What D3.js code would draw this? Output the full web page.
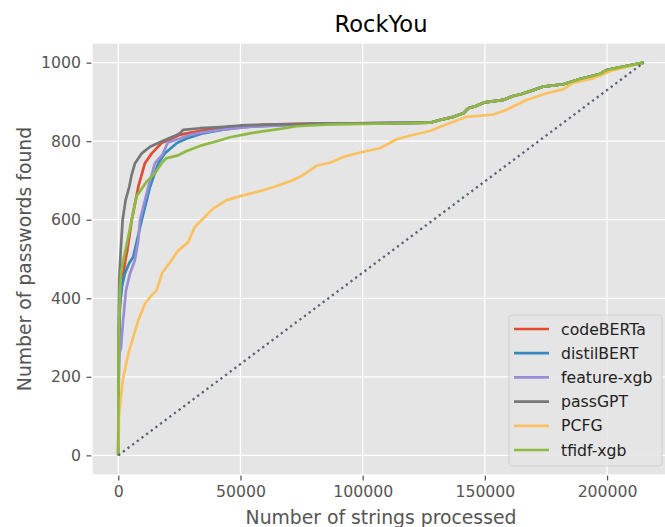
<!DOCTYPE html>
<html>
<head>
<meta charset="utf-8">
<script src="https://cdn.jsdelivr.net/npm/d3@7"></script>
<style>
  html, body { margin: 0; padding: 0; background: #ffffff; }
  svg { display: block; font-family: "DejaVu Sans", sans-serif; }
</style>
</head>
<body>
<svg id="chart" width="665" height="527"></svg>
<script>
// ---------------- data ----------------
const title = "RockYou";
const xLabel = "Number of strings processed";
const yLabel = "Number of passwords found";
const xTicks = [0, 50000, 100000, 150000, 200000];
const yTicks = [0, 200, 400, 600, 800, 1000];
const seriesNames = ["codeBERTa", "distilBERT", "feature-xgb", "passGPT", "PCFG", "tfidf-xgb"];
const seriesColors = ["#E24A33", "#348ABD", "#988ED5", "#777777", "#FBC15E", "#8EBA42"];

// common tail shared by the model curves after the plateau
const tail = [[131600,854],[137100,862],[141200,871],[143200,884],[146600,890],[150000,899],
  [157500,905],[161600,915],[165000,920],[169800,930],[173900,939],[182100,945],[188900,958],
  [197100,971],[199800,981],[205300,988],[215000,1000]];

const codeBERTa = [[0,0],[150,250],[500,360],[1200,420],[2000,460],[3000,500],[3700,522],[5500,599],
  [8200,684],[10900,744],[13700,769],[17700,795],[21800,807],[25000,816],[28000,820],[36200,829],
  [45000,836],[60000,842],[80000,845],[110000,846],[127500,847]].concat(tail);

const distilBERT = [[0,0],[150,220],[600,380],[1500,430],[2700,463],[4500,490],[6100,505],[7700,548],
  [9600,599],[13000,684],[16400,744],[19100,769],[23900,795],[28000,807],[34700,820],[41600,828],
  [50000,836],[70000,842],[90000,845],[110000,846],[127500,847]].concat(tail);

const featureXgb = [[0,0],[200,180],[500,262],[1100,272],[1400,300],[2000,345],[3150,420],[4800,463],
  [6800,497],[8200,548],[8900,600],[12300,684],[15000,744],[18000,765],[20300,797],[25200,807],
  [29300,816],[33400,821],[41600,829],[55000,837],[70000,841],[90000,844],[110000,846],[127500,847]].concat(tail);

const passGPT = [[0,0],[100,300],[400,450],[1000,522],[1800,600],[3000,650],[4500,684],[5500,715],
  [6800,743],[9600,769],[13000,786],[17700,799],[23900,816],[25200,820],[26500,829],[33400,833],
  [41600,836],[49800,840],[60000,842],[85300,845],[110000,846],[127500,847]].concat(tail);

const PCFG = [[0,0],[300,100],[700,123],[1800,191],[4100,259],[6100,301],[8200,344],[10900,386],
  [13000,403],[15700,420],[18000,465],[21800,497],[24600,522],[28600,543],[31400,582],[34800,603],
  [38900,629],[44400,650],[49800,660],[59300,675],[64800,686],[71600,701],[75700,714],[81200,738],
  [86600,745],[92100,760],[100300,773],[107100,782],[113900,805],[120000,815],[127500,826],
  [134400,843],[142600,862],[153500,868],[158900,880],[167100,905],[175300,922],[182100,932],
  [186200,949],[194400,960],[202500,981],[215000,1000]];

const tfidfXgb = [[0,0],[150,300],[700,420],[1200,470],[2200,500],[3150,528],[5500,600],[7500,660],
  [11600,697],[15000,718],[17700,744],[19800,757],[24500,764],[28000,775],[33400,788],[40300,800],
  [45700,810],[53900,820],[64800,830],[73000,838],[86600,843],[111200,845],[127500,847]].concat(tail);

const seriesData = [codeBERTa, distilBERT, featureXgb, passGPT, PCFG, tfidfXgb];
const diagonal = [[0,0],[215000,1000]];

// ---------------- layout ----------------
const svg = d3.select("#chart");
const plot = { left: 92, top: 43, right: 670, bottom: 475 };
const xDomain = [-10750, 225750];
const yDomain = [-50, 1050];

const x = d3.scaleLinear().domain(xDomain).range([plot.left, plot.right]);
const y = d3.scaleLinear().domain(yDomain).range([plot.bottom, plot.top]);

const tickColor = "#555555";
const tickFont = 15.7;

// background
svg.append("rect")
  .attr("x", plot.left).attr("y", plot.top)
  .attr("width", plot.right - plot.left).attr("height", plot.bottom - plot.top)
  .attr("fill", "#E5E5E5");

// grid
const grid = svg.append("g");
grid.selectAll("line.gx").data(xTicks).enter().append("line")
  .attr("x1", d => x(d)).attr("x2", d => x(d))
  .attr("y1", plot.top).attr("y2", plot.bottom)
  .attr("stroke", "#ffffff").attr("stroke-width", 1.25);
grid.selectAll("line.gy").data(yTicks).enter().append("line")
  .attr("y1", d => y(d)).attr("y2", d => y(d))
  .attr("x1", plot.left).attr("x2", plot.right)
  .attr("stroke", "#ffffff").attr("stroke-width", 1.25);

// axes
const xAxis = d3.axisBottom(x).tickValues(xTicks).tickSize(5.5).tickPadding(5.5).tickFormat(d3.format("d"));
const yAxis = d3.axisLeft(y).tickValues(yTicks).tickSize(5.5).tickPadding(5.5).tickFormat(d3.format("d"));

const gx = svg.append("g").attr("transform", `translate(0,${plot.bottom})`).call(xAxis);
const gy = svg.append("g").attr("transform", `translate(${plot.left},0)`).call(yAxis);
[gx, gy].forEach(g => {
  g.select(".domain").remove();
  g.selectAll(".tick line").attr("stroke", tickColor).attr("stroke-width", 1.25);
  g.selectAll(".tick text").attr("fill", tickColor)
    .style("font-family", "DejaVu Sans").style("font-size", tickFont + "px");
});

// clip for lines
svg.append("clipPath").attr("id", "clip").append("rect")
  .attr("x", plot.left).attr("y", plot.top)
  .attr("width", plot.right - plot.left).attr("height", plot.bottom - plot.top);

const line = d3.line().x(d => x(d[0])).y(d => y(d[1]));
const lines = svg.append("g").attr("clip-path", "url(#clip)");

seriesData.forEach((data, i) => {
  lines.append("path")
    .datum(data)
    .attr("d", line)
    .attr("fill", "none")
    .attr("stroke", seriesColors[i])
    .attr("stroke-width", 2.7)
    .attr("stroke-linejoin", "round");
});

lines.append("path")
  .datum(diagonal)
  .attr("d", line)
  .attr("fill", "none")
  .attr("stroke", "#5b6576")
  .attr("stroke-width", 2.3)
  .attr("stroke-dasharray", "2.3,3.5");

// spines (white)
svg.append("rect")
  .attr("x", plot.left).attr("y", plot.top)
  .attr("width", plot.right - plot.left).attr("height", plot.bottom - plot.top)
  .attr("fill", "none").attr("stroke", "#ffffff").attr("stroke-width", 1.2);

// title and labels
svg.append("text")
  .attr("x", (plot.left + plot.right) / 2).attr("y", 32)
  .attr("text-anchor", "middle")
  .style("font-size", "22.6px").attr("fill", "#000000")
  .text(title);

svg.append("text")
  .attr("x", (plot.left + plot.right) / 2).attr("y", 524)
  .attr("text-anchor", "middle")
  .style("font-size", "18.8px").attr("fill", tickColor)
  .text(xLabel);

svg.append("text")
  .attr("transform", `translate(31,${(plot.top + plot.bottom) / 2}) rotate(-90)`)
  .attr("text-anchor", "middle")
  .style("font-size", "18.8px").attr("fill", tickColor)
  .text(yLabel);

// legend
const leg = { x: 509, y: 315, w: 153, h: 151, rowH: 24.2, first: 329 };
svg.append("rect")
  .attr("x", leg.x).attr("y", leg.y).attr("width", leg.w).attr("height", leg.h)
  .attr("rx", 3).attr("ry", 3)
  .attr("fill", "#E5E5E5").attr("fill-opacity", 0.8)
  .attr("stroke", "#cccccc").attr("stroke-opacity", 0.8).attr("stroke-width", 1);

const items = svg.append("g").selectAll("g").data(seriesNames).enter().append("g")
  .attr("transform", (d, i) => `translate(0,${leg.first + i * leg.rowH})`);
items.append("line")
  .attr("x1", 514).attr("x2", 549).attr("y1", 0).attr("y2", 0)
  .attr("stroke", (d, i) => seriesColors[i]).attr("stroke-width", 2.7);
items.append("text")
  .attr("x", 561).attr("y", 0).attr("dy", "0.36em")
  .style("font-size", "15.7px").attr("fill", "#222222")
  .text(d => d);
</script>
</body>
</html>
